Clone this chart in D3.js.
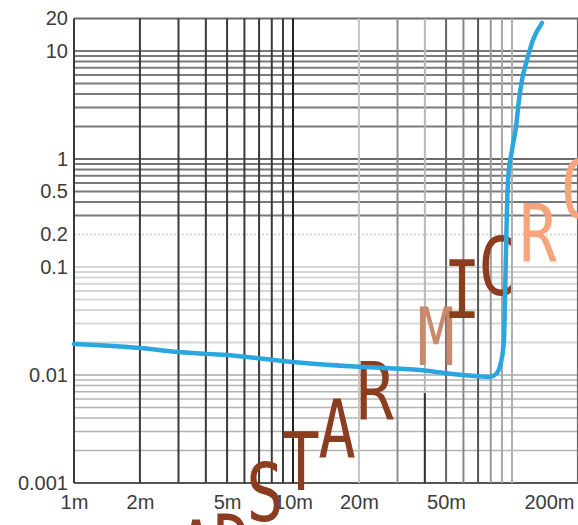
<!DOCTYPE html>
<html>
<head>
<meta charset="utf-8">
<script src="https://cdn.jsdelivr.net/npm/d3@7"></script>
<style>
  html, body { margin: 0; padding: 0; background: #fff; }
  svg { display: block; }
</style>
</head>
<body>
<svg id="chart" width="578" height="525"></svg>
<script>
// Time axis (seconds) and response values for the curve
const timeValues = [0.001, 0.002, 0.003, 0.005, 0.010, 0.020, 0.038, 0.050, 0.068, 0.079,
                    0.0845, 0.0891, 0.0919, 0.0929, 0.0939, 0.0959, 0.100, 0.1043, 0.1076,
                    0.1111, 0.1171, 0.1247, 0.137];
const responseValues = [0.0194, 0.0178, 0.0163, 0.0153, 0.0132, 0.0119, 0.0111, 0.0104, 0.0098, 0.0096,
                        0.0102, 0.0132, 0.0211, 0.0495, 0.1436, 0.639, 1.21, 1.98, 3.52,
                        5.39, 8.25, 12.65, 18.2];

// Tick labels
const xTickValues = [0.001, 0.002, 0.005, 0.01, 0.02, 0.05, 0.2];
const xTickLabels = ["1m", "2m", "5m", "10m", "20m", "50m", "200m"];
const yTickValues = [20, 10, 1, 0.5, 0.2, 0.1, 0.01, 0.001];
const yTickLabels = ["20", "10", "1", "0.5", "0.2", "0.1", "0.01", "0.001"];

// Overlay lettering
const overlayLetters = ["A", "D", "S", "T", "A", "R", "M", "I", "C", "R", "O"];

const svg = d3.select("#chart");

const x = d3.scaleLog().domain([0.001, 0.2]).range([74, 74 + 219 * Math.log10(200)]);
const y = d3.scaleLog().domain([0.001, 20]).range([483, 483 - 108 * Math.log10(20000)]);

// Grid values: 1..9 per decade
const yGrid = [];
[0.001, 0.01, 0.1, 1].forEach(d => { for (let k = 1; k <= 9; k++) yGrid.push(+(d * k).toPrecision(3)); });
yGrid.push(10, 20);
const xGrid = [];
[0.001, 0.01].forEach(d => { for (let k = 1; k <= 9; k++) xGrid.push(+(d * k).toPrecision(3)); });
xGrid.push(0.1, 0.2);

function hStyle(v) {
  if (v === 20) return { c: "#6a6a6a", w: 2 };
  if (v === 0.001) return { c: "#555", w: 2 };
  if (v > 1 && v <= 10) return { c: "#7a7a7a", w: 2 };
  if (v === 1) return { c: "#6a6a6a", w: 2 };
  if (v >= 0.3 && v < 1) return { c: "#787878", w: 2 };
  if (v === 0.2) return { c: "#cfcfcf", w: 1.5, dash: "2,2" };
  if (v > 0.01 && v <= 0.1) return { c: "#d6d6d6", w: 2 };
  if (v === 0.01) return { c: "#a8a8a8", w: 1.5 };
  return { c: "#b4b4b4", w: 1.5 };
}
function vStyle(v) {
  if (v <= 0.0101) return { c: v === 0.01 ? "#222" : "#3a3a3a", w: 2 };
  const m = {
    0.02: "#c4c4c4", 0.03: "#8e8e8e", 0.04: "#b8b8b8", 0.05: "#666",
    0.06: "#888", 0.07: "#555", 0.08: "#999", 0.09: "#a8a8a8", 0.1: "#b0b0b0", 0.2: "#666"
  };
  return { c: m[v] || "#888", w: 2 };
}

const x0 = x.range()[0], x1 = x.range()[1];
const yTop = y(20), yBot = y(0.001);

const grid = svg.append("g").attr("class", "grid");
grid.selectAll("line.h").data(yGrid).join("line")
  .attr("class", "h")
  .attr("x1", x0).attr("x2", x1)
  .attr("y1", d => y(d)).attr("y2", d => y(d))
  .attr("stroke", d => hStyle(d).c)
  .attr("stroke-width", d => hStyle(d).w)
  .attr("stroke-dasharray", d => hStyle(d).dash || null);

grid.selectAll("line.v").data(xGrid).join("line")
  .attr("class", "v")
  .attr("x1", d => x(d)).attr("x2", d => x(d))
  .attr("y1", yTop).attr("y2", yBot)
  .attr("stroke", d => vStyle(d).c)
  .attr("stroke-width", d => vStyle(d).w);

// Darker lower section of the 40m line
grid.append("line")
  .attr("x1", x(0.04)).attr("x2", x(0.04))
  .attr("y1", y(0.0068)).attr("y2", yBot)
  .attr("stroke", "#333").attr("stroke-width", 2);

// Axes
const fontFamily = "'Liberation Sans', Arial, sans-serif";
const xAxis = svg.append("g")
  .attr("transform", `translate(0,${yBot})`)
  .call(d3.axisBottom(x).tickValues(xTickValues).tickSize(0).tickPadding(15)
    .tickFormat((d, i) => xTickLabels[i]));
xAxis.select(".domain").remove();
xAxis.selectAll("text")
  .attr("font-family", fontFamily).attr("font-size", 20).attr("fill", "#3c3c3c")
  .attr("dy", "0.55em");
xAxis.selectAll(".tick").filter(d => d === 0.2).select("text")
  .attr("text-anchor", "end").attr("x", -4);

const yAxis = svg.append("g")
  .attr("transform", `translate(${x0},0)`)
  .call(d3.axisLeft(y).tickValues(yTickValues).tickSize(0).tickPadding(6)
    .tickFormat((d, i) => yTickLabels[i]));
yAxis.select(".domain").remove();
yAxis.selectAll("text")
  .attr("font-family", fontFamily).attr("font-size", 20).attr("fill", "#3c3c3c");

// Overlay lettering
const letterBrown = "#8c3d1f";
const letterTan = "#c98a6c";
const letterPeach = "#f6a47c";
const letterPlacement = [
  { cx: 196, base: 578, fill: letterBrown },
  { cx: 232, base: 572, fill: letterBrown },
  { cx: 265, base: 521, fill: letterBrown },
  { cx: 301, base: 490, fill: letterBrown },
  { cx: 337, base: 457, fill: letterBrown },
  { cx: 375, base: 420, fill: letterBrown },
  { cx: 436, base: 365, fill: letterTan },
  { cx: 462, base: 318, fill: letterBrown },
  { cx: 497, base: 295, fill: letterBrown },
  { cx: 538, base: 262, fill: letterPeach },
  { cx: 580, base: 218, fill: letterPeach }
];
svg.append("g").selectAll("text").data(overlayLetters).join("text")
  .attr("transform", (d, i) => `translate(${letterPlacement[i].cx},${letterPlacement[i].base}) scale(0.78,1)`)
  .attr("text-anchor", "middle")
  .attr("font-family", "'DejaVu Sans Mono', monospace")
  .attr("font-size", 80)
  .attr("fill", (d, i) => letterPlacement[i].fill)
  .text(d => d);

// Response curve
const points = timeValues.map((t, i) => [t, responseValues[i]]);
svg.append("path")
  .datum(points)
  .attr("fill", "none")
  .attr("stroke", "#2ba6df")
  .attr("stroke-width", 4.5)
  .attr("stroke-linecap", "round")
  .attr("stroke-linejoin", "round")
  .attr("d", d3.line().x(d => x(d[0])).y(d => y(d[1])).curve(d3.curveMonotoneX));
</script>
</body>
</html>
